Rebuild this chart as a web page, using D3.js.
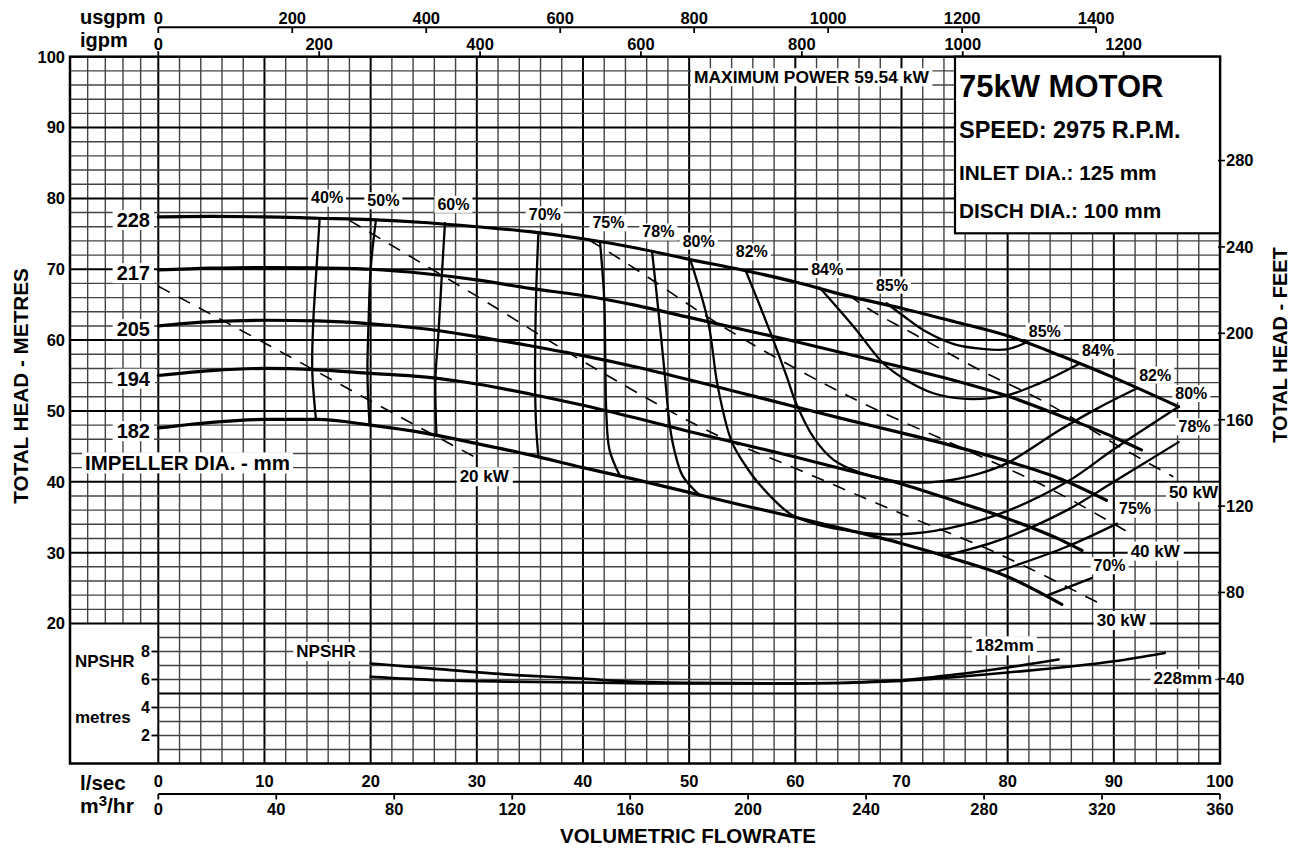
<!DOCTYPE html>
<html><head><meta charset="utf-8">
<script src="https://cdn.jsdelivr.net/npm/d3@7"></script>
<style>
body{margin:0;background:#fff;}
svg text{font-family:"Liberation Sans",Arial,Helvetica,sans-serif;font-weight:bold;fill:#000;}
</style></head><body>
<svg id="c" width="1300" height="848"></svg>
<script>
// ---------------- DATA ----------------
const lsTicks=[0,10,20,30,40,50,60,70,80,90,100];
const m3hTicks=[0,40,80,120,160,200,240,280,320,360];
const usgpmTicks=[0,200,400,600,800,1000,1200,1400];
const igpmTicks=[0,200,400,600,800,1000,1200];
const headTicks=[20,30,40,50,60,70,80,90,100];
const feetTicks=[40,80,120,160,200,240,280];
const npshTicks=[2,4,6,8];
const impellerLabels=["228","217","205","194","182"];

// Head (m) vs flow (l/s) per impeller diameter
const head228=[[0,77.4],[5,77.45],[10,77.4],[15,77.2],[20,77.0],[25,76.6],[30,76.0],[35,75.3],[40,74.3],[45,73.0],[50,71.4],[55,69.9],[60,68.2],[65,66.2],[70,64.5],[75,62.6],[80,60.6],[85,57.8],[90,54.7],[96.1,50.6]];
const head217=[[0,69.9],[5,70.15],[10,70.25],[15,70.2],[20,70.0],[25,69.4],[30,68.5],[35,67.3],[40,66.3],[45,64.9],[50,63.2],[55,61.5],[60,59.8],[65,58.0],[70,56.2],[75,54.3],[80,52.1],[85,49.3],[90,46.3],[92.6,44.5]];
const head205=[[0,62.0],[5,62.6],[10,62.8],[15,62.7],[20,62.3],[25,61.6],[30,60.5],[35,59.2],[40,57.8],[45,56.2],[50,54.4],[55,52.5],[60,50.6],[65,48.7],[70,46.9],[75,45.0],[80,42.9],[85,40.4],[89.3,37.4]];
const head194=[[0,55.0],[5,55.7],[10,56.0],[15,55.8],[20,55.3],[25,54.8],[30,53.8],[35,52.4],[40,50.8],[45,49.0],[50,47.1],[55,45.3],[60,43.5],[65,41.6],[70,39.7],[75,37.3],[80,34.8],[85,31.8],[87.0,30.3]];
const head182=[[0,47.6],[5,48.4],[10,48.8],[15,48.8],[20,48.0],[25,46.9],[30,45.4],[35,43.8],[40,42.0],[45,40.3],[50,38.5],[55,36.7],[60,35.0],[65,33.2],[70,31.3],[75,29.1],[80,26.6],[85.1,22.7]];

// Iso-efficiency curves (flow l/s, head m)
const eff40=[[15.2,77.2],[14.9,70.1],[14.6,62.7],[14.5,55.8],[14.85,48.8]];
const eff50=[[20.5,77.0],[20.0,70.0],[19.8,62.3],[19.7,55.3],[19.9,48.0]];
const eff60=[[27.0,76.5],[26.7,69.0],[26.4,61.3],[26.1,54.4],[26.2,46.5]];
const eff70=[[35.8,75.1],[35.6,67.2],[35.5,59.1],[35.5,52.3],[35.6,47.5],[35.8,43.5]];
const eff75=[[41.6,73.9],[42.0,65.8],[42.1,57.4],[42.2,49.7],[42.5,44.5],[43.5,40.8]];
const eff75b=[[79.0,27.3],[85.5,30.8],[90.3,34.1]];
const eff78=[[46.5,72.6],[47.1,64.2],[47.7,55.2],[48.2,47.7],[48.6,44.5],[49.4,40.8],[51.0,38.1]];
const eff78b=[[73.9,29.5],[79.3,31.8],[85.6,36.0],[90.0,40.0],[96.1,45.6]];
const eff80=[[50.1,71.4],[51.8,62.5],[52.7,53.4],[54.0,45.7],[55.3,42.3],[56.7,39.5],[59.5,35.5],[62.0,34.0],[64.5,33.2],[67.0,32.7],[69.9,32.6],[74.3,33.4],[79.3,35.5],[85.6,40.0],[90.0,44.6],[96.1,50.6]];
const eff70b=[[83.8,24.0],[87.9,26.4]];
const eff82=[[55.3,69.9],[56.7,64.7],[57.9,60.1],[59.2,54.8],[60.1,51.0],[61.7,46.3],[63.6,43.1],[66.1,41.3],[69.9,40.0],[73.9,40.1],[77.4,41.2],[79.9,42.6],[84.9,47.3],[88.5,50.4],[92.2,53.2]];
const eff84=[[62.3,67.4],[65.5,61.9],[68.3,56.7],[70.5,54.3],[73.0,52.5],[76.1,51.7],[79.9,52.2],[83.0,53.9],[86.8,56.7]];
const eff85=[[68.6,65.2],[70.2,63.4],[72.3,61.2],[75.0,59.4],[77.4,58.8],[79.9,58.7],[81.8,59.7]];

// Constant power lines (dashed)
const pow20=[[0,67.6],[10,59.6],[20,51.4],[30.3,43.1]];
const pow30=[[18.0,76.9],[30,66.2],[41.6,55.6],[52.6,46.6],[60,41.9],[70,35.5],[78.3,30.4],[88.7,22.8]];
const pow40=[[40.6,74.1],[42.9,72.0],[53.5,61.6],[65.8,51.5],[76.1,44.5],[84,39.0],[91.8,32.5]];
const pow50=[[65.0,66.4],[66.4,64.9],[71,61.0],[77.1,56.0],[83.7,51.1],[90.6,44.9],[95.6,40.7]];

// NPSH required (m) vs flow (l/s)
const npsh182=[[20,7.14],[26.5,6.74],[33,6.35],[40,6.07],[44,5.87],[50,5.76],[60,5.71],[70,5.95],[75,6.35],[80,6.86],[84.8,7.43]];
const npsh228=[[20,6.19],[26.5,5.95],[33,5.85],[40,5.79],[50,5.71],[60,5.71],[70,5.9],[80,6.5],[90,7.3],[94.8,7.9]];

// Annotations (flow l/s, head m)
const effLabels=[["40%",15.9,80.1],["50%",21.2,79.7],["60%",27.8,79.2],["70%",36.4,77.7],["75%",42.4,76.6],["78%",47.1,75.3],["80%",50.9,74.0],["82%",55.9,72.5],["84%",63.0,70.0],["85%",69.1,67.8],["85%",83.5,61.3],["84%",88.5,58.6],["82%",93.9,55.1],["80%",97.3,52.5],["78%",97.6,47.8],["75%",92.0,36.2],["70%",89.6,28.2]];
const powLabels=[["50 kW",97.5,38.6],["40 kW",93.9,30.3],["30 kW",90.7,20.5],["20 kW",30.7,40.8]];
const npshLabels=[["NPSHR",15.8,8.04],["182mm",79.7,8.45],["228mm",96.5,6.1]];
const motorLines=["75kW MOTOR","SPEED: 2975 R.P.M.","INLET DIA.: 125 mm","DISCH DIA.: 100 mm"];
const maxPower="MAXIMUM POWER 59.54 kW";

// unit conversions
const USGPM_PER_LS=15.850, IGPM_PER_LS=13.198, M3H_PER_LS=3.6, M_PER_FT=0.3048;

// ---------------- LAYOUT ----------------
const FL=70, X0=158.3, X1=1220, YT=56.7, Y20=623.5, YB=763.5;
const svg=d3.select('#c');
const x=d3.scaleLinear().domain([0,100]).range([X0,X1]);
const y=d3.scaleLinear().domain([20,100]).range([Y20,YT]);
const yN=d3.scaleLinear().domain([0,10]).range([YB,Y20]);
const xUS=d3.scaleLinear().domain([0,100*USGPM_PER_LS]).range([X0,X1]);
const xIG=d3.scaleLinear().domain([0,100*IGPM_PER_LS]).range([X0,X1]);
const xM3=d3.scaleLinear().domain([0,100*M3H_PER_LS]).range([X0,X1]);
const yFt=d3.scaleLinear().domain([20/M_PER_FT,100/M_PER_FT]).range([Y20,YT]);

svg.append('rect').attr('width',1300).attr('height',848).attr('fill','#fff');

// ---------------- GRID ----------------
const grid=svg.append('g');
function gl(x1,y1,x2,y2,major){
  grid.append('line').attr('x1',x1).attr('y1',y1).attr('x2',x2).attr('y2',y2)
    .attr('stroke',major?'#000':'#444').attr('stroke-width',major?2:1.4);
}
d3.range(0,101,2).forEach(q=>gl(x(q),YT,x(q),YB,q%10===0));
[1,2,3,4].forEach(k=>{const xx=FL+k*(X0-FL)/5; gl(xx,YT,xx,Y20,false);});
d3.range(22,100,2).forEach(h=>gl(FL,y(h),X1,y(h),h%10===0));
gl(FL,Y20,X1,Y20,true);
d3.range(1,10,1).forEach(n=>gl(X0,yN(n),X1,yN(n),n===5));

// ---------------- CURVES ----------------
const curves=svg.append('g').attr('fill','none').attr('stroke','#000').attr('stroke-linejoin','round').attr('stroke-linecap','round');
const lineM=d3.line().x(d=>x(d[0])).y(d=>y(d[1])).curve(d3.curveMonotoneX);
const lineC=d3.line().x(d=>x(d[0])).y(d=>y(d[1])).curve(d3.curveCatmullRom.alpha(0.5));
const lineN=d3.line().x(d=>x(d[0])).y(d=>yN(d[1])).curve(d3.curveMonotoneX);

[pow20,pow30,pow40,pow50].forEach(p=>curves.append('path').attr('d',lineM(p)).attr('stroke-width',1.6).attr('stroke-dasharray','13,10').attr('stroke-linecap','butt'));
[eff40,eff50,eff60,eff70,eff75,eff75b,eff78,eff78b,eff80,eff70b,eff82,eff84,eff85].forEach(e=>curves.append('path').attr('d',lineC(e)).attr('stroke-width',2.3));
[head228,head217,head205,head194,head182].forEach(c=>curves.append('path').attr('d',lineM(c)).attr('stroke-width',3.2));
[npsh182,npsh228].forEach(c=>curves.append('path').attr('d',lineN(c)).attr('stroke-width',2.6));

// ---------------- LABELS ----------------
const labs=svg.append('g');
function boxText(g,xx,yy,txt,size,anchor,padX,padY){
  const t=g.append('text').attr('x',xx).attr('y',yy).attr('dy','0.36em')
    .attr('text-anchor',anchor||'middle').attr('font-size',size).text(txt);
  const b=t.node().getBBox();
  padX=padX==null?3:padX; padY=padY==null?0:padY;
  g.insert('rect',()=>t.node()).attr('x',b.x-padX).attr('y',b.y-padY)
    .attr('width',b.width+2*padX).attr('height',b.height+2*padY).attr('fill','#fff');
  return t;
}
effLabels.forEach(d=>boxText(labs,x(d[1]),y(d[2]),d[0],16));
powLabels.forEach(d=>boxText(labs,x(d[1]),y(d[2]),d[0],17));
npshLabels.forEach(d=>boxText(labs,x(d[1]),yN(d[2]),d[0],17));
[head228,head217,head205,head194,head182].forEach((c,i)=>boxText(labs,150,y(c[0][1])+3,impellerLabels[i],20,'end',4,-1));
boxText(labs,85,463,'IMPELLER DIA. - mm',20.5,'start',3,-1);
boxText(labs,694,77,maxPower,17.4,'start',3,-1);

// ---------------- FRAME ----------------
svg.append('rect').attr('x',FL).attr('y',YT).attr('width',X1-FL).attr('height',YB-YT)
  .attr('fill','none').attr('stroke','#000').attr('stroke-width',2.5);

// motor box
const mb=svg.append('g');
mb.append('rect').attr('x',955).attr('y',YT).attr('width',X1-955).attr('height',233.3-YT)
  .attr('fill','#fff').attr('stroke','#000').attr('stroke-width',2.2);
const mSizes=[31,23.5,20.8,20.8], mBase=[96.7,138.3,180,218.3];
motorLines.forEach((t,i)=>mb.append('text').attr('x',959).attr('y',mBase[i]).attr('font-size',mSizes[i]).text(t));

// ---------------- AXES ----------------
const ax=svg.append('g');
headTicks.forEach(h=>ax.append('text').attr('x',65).attr('y',y(h)).attr('dy','0.36em').attr('text-anchor','end').attr('font-size',16.5).text(h));
ax.append('text').attr('transform',`translate(27.5,386) rotate(-90)`).attr('text-anchor','middle').attr('font-size',20.7).text('TOTAL HEAD - METRES');
npshTicks.forEach(n=>{
  ax.append('line').attr('x1',151.5).attr('x2',X0).attr('y1',yN(n)).attr('y2',yN(n)).attr('stroke','#000').attr('stroke-width',1.8);
  ax.append('text').attr('x',150).attr('y',yN(n)).attr('dy','0.36em').attr('text-anchor','end').attr('font-size',16).text(n);
});
ax.append('text').attr('x',75).attr('y',666.7).attr('font-size',17).text('NPSHR');
ax.append('text').attr('x',75).attr('y',722.7).attr('font-size',17).text('metres');
feetTicks.forEach(f=>{
  ax.append('line').attr('x1',X1-2).attr('x2',X1+5).attr('y1',yFt(f)).attr('y2',yFt(f)).attr('stroke','#000').attr('stroke-width',1.6);
  ax.append('text').attr('x',X1+6).attr('y',yFt(f)).attr('dy','0.36em').attr('font-size',16.5).text(f);
});
ax.append('text').attr('transform',`translate(1287,345) rotate(-90)`).attr('text-anchor','middle').attr('font-size',20).text('TOTAL HEAD - FEET');
ax.append('line').attr('x1',xUS(0)).attr('x2',xUS(1400)).attr('y1',27.3).attr('y2',27.3).attr('stroke','#000').attr('stroke-width',2);
usgpmTicks.forEach(v=>{
  ax.append('line').attr('x1',xUS(v)).attr('x2',xUS(v)).attr('y1',27.3).attr('y2',33).attr('stroke','#000').attr('stroke-width',1.8);
  ax.append('text').attr('x',xUS(v)).attr('y',24).attr('text-anchor','middle').attr('font-size',16.5).text(v);
});
igpmTicks.forEach(v=>{
  ax.append('line').attr('x1',xIG(v)).attr('x2',xIG(v)).attr('y1',YT-5.5).attr('y2',YT).attr('stroke','#000').attr('stroke-width',1.8);
  ax.append('text').attr('x',xIG(v)).attr('y',50).attr('text-anchor','middle').attr('font-size',16.5).text(v);
});
ax.append('text').attr('x',80).attr('y',23.5).attr('font-size',20).text('usgpm');
ax.append('text').attr('x',80).attr('y',46.7).attr('font-size',20).text('igpm');
lsTicks.forEach(v=>ax.append('text').attr('x',x(v)).attr('y',786.7).attr('text-anchor','middle').attr('font-size',16.5).text(v));
ax.append('line').attr('x1',xM3(0)).attr('x2',xM3(360)).attr('y1',794).attr('y2',794).attr('stroke','#000').attr('stroke-width',2);
m3hTicks.forEach(v=>{
  ax.append('line').attr('x1',xM3(v)).attr('x2',xM3(v)).attr('y1',794).attr('y2',799.5).attr('stroke','#000').attr('stroke-width',1.8);
  ax.append('text').attr('x',xM3(v)).attr('y',815).attr('text-anchor','middle').attr('font-size',16.5).text(v);
});
ax.append('text').attr('x',80).attr('y',790).attr('font-size',20.5).text('l/sec');
const m3=ax.append('text').attr('x',80).attr('y',812.7).attr('font-size',21);
m3.append('tspan').text('m');
m3.append('tspan').attr('font-size',15).attr('dy',-7).text('3');
m3.append('tspan').attr('dy',7).text('/hr');
ax.append('text').attr('x',688).attr('y',842.5).attr('text-anchor','middle').attr('font-size',20.5).text('VOLUMETRIC FLOWRATE');
</script>
</body></html>
